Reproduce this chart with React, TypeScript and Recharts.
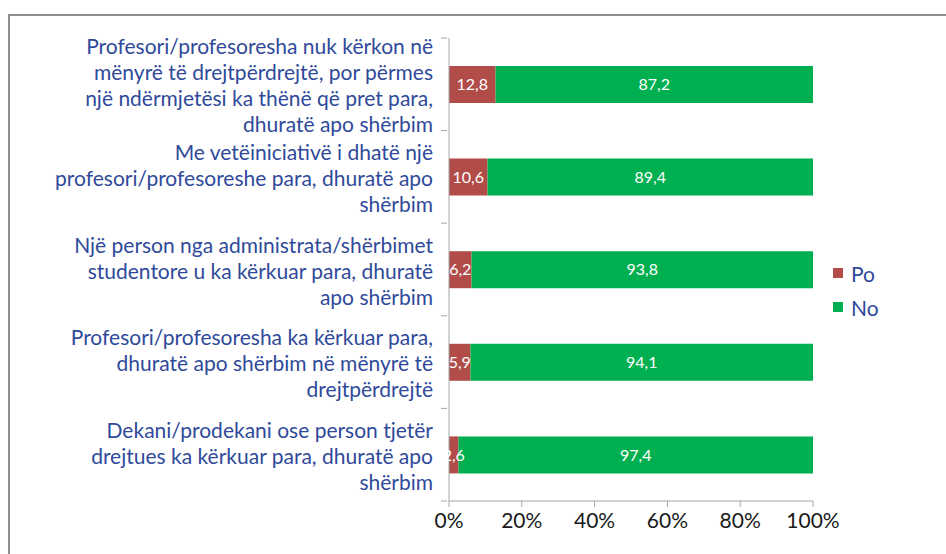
import { BarChart, Bar, XAxis, YAxis, LabelList } from "recharts";

const CATEGORIES = [
  "Profesori/profesoresha nuk kërkon në\nmënyrë të drejtpërdrejtë, por përmes\nnjë ndërmjetësi ka thënë që pret para,\ndhuratë apo shërbim",
  "Me vetëiniciativë i dhatë një\nprofesori/profesoreshe para, dhuratë apo\nshërbim",
  "Një person nga administrata/shërbimet\nstudentore u ka kërkuar para, dhuratë\napo shërbim",
  "Profesori/profesoresha ka kërkuar para,\ndhuratë apo shërbim në mënyrë të\ndrejtpërdrejtë",
  "Dekani/prodekani ose person tjetër\ndrejtues ka kërkuar para, dhuratë apo\nshërbim",
];
const PO = [12.8, 10.6, 6.2, 5.9, 2.6];
const NO = [87.2, 89.4, 93.8, 94.1, 97.4];
const X_TICKS = [0, 20, 40, 60, 80, 100];

const RED = "#B14C48";
const GREEN = "#00B050";
const BLUE = "#2F4A9A";
const AXIS = "#A6A6A6";
const FONT = "Lato, 'Noto Sans', sans-serif";

const W = 946;
const H = 554;
const X_HEIGHT = 30;
const MARGIN = { top: 38, right: 133, bottom: 53 - X_HEIGHT, left: 0 };
const Y_WIDTH = 449;
const BAND = (H - 38 - 53) / CATEGORIES.length;

const data = CATEGORIES.map((name, i) => ({ name, po: PO[i], no: NO[i] }));

const fmt = (v: number) => v.toFixed(1).replace(".", ",");

function CategoryTick(props: any) {
  const { x, y, payload, index } = props;
  const lines = String(payload.value).split("\n");
  const lh = 26;
  const startY = y - ((lines.length - 1) * lh) / 2;
  return (
    <g>
      <line x1={x} x2={x + 6} y1={y - BAND / 2} y2={y - BAND / 2} stroke={AXIS} />
      {index === CATEGORIES.length - 1 && (
        <line x1={x} x2={x + 6} y1={y + BAND / 2} y2={y + BAND / 2} stroke={AXIS} />
      )}
      <text x={x - 8} y={startY} textAnchor="end" fill={BLUE} fontSize={21} fontFamily={FONT} dominantBaseline="central">
        {lines.map((l, i) => (
          <tspan key={i} x={x - 8} dy={i === 0 ? 0 : lh}>{l}</tspan>
        ))}
      </text>
    </g>
  );
}

function Legend() {
  const items = [
    { label: "Po", color: RED },
    { label: "No", color: GREEN },
  ];
  return (
    <g>
      {items.map((it, i) => (
        <g key={it.label}>
          <rect x={833} y={268 + i * 34} width={10} height={10} fill={it.color} />
          <text x={851} y={273 + i * 34} fill={BLUE} fontSize={21} fontFamily={FONT} dominantBaseline="central">{it.label}</text>
        </g>
      ))}
    </g>
  );
}

export default function App() {
  return (
    <div style={{ position: "relative", width: W, height: H, background: "#fff" }}>
      <style>{"body{margin:0}"}</style>
      <div style={{ position: "absolute", left: 8, top: 14, width: W, height: H, borderLeft: "2px solid #8E8E8E", borderTop: "2px solid #8E8E8E" }} />
      <div style={{ position: "absolute", left: 0, top: 0 }}>
        <BarChart width={W} height={H} data={data} layout="vertical" margin={MARGIN} barSize={37}>
          <XAxis
            type="number"
            domain={[0, 100]}
            ticks={X_TICKS}
            tickFormatter={(v: number) => `${v}%`}
            stroke={AXIS}
            tickSize={6}
            height={X_HEIGHT}
            tick={{ fontSize: 21, fill: "#1A1A1A", fontFamily: FONT, dy: 4 }}
          />
          <YAxis
            type="category"
            dataKey="name"
            width={Y_WIDTH}
            stroke={AXIS}
            tickLine={false}
            tick={<CategoryTick />}
            interval={0}
          />
          <Bar dataKey="po" stackId="a" fill={RED} isAnimationActive={false}>
            <LabelList dataKey="po" position="center" formatter={(v: any) => fmt(Number(v))} fill="#fff" fontSize={16} fontFamily={FONT} />
          </Bar>
          <Bar dataKey="no" stackId="a" fill={GREEN} isAnimationActive={false}>
            <LabelList dataKey="no" position="center" formatter={(v: any) => fmt(Number(v))} fill="#fff" fontSize={16} fontFamily={FONT} />
          </Bar>
          <Legend />
        </BarChart>
      </div>
    </div>
  );
}
